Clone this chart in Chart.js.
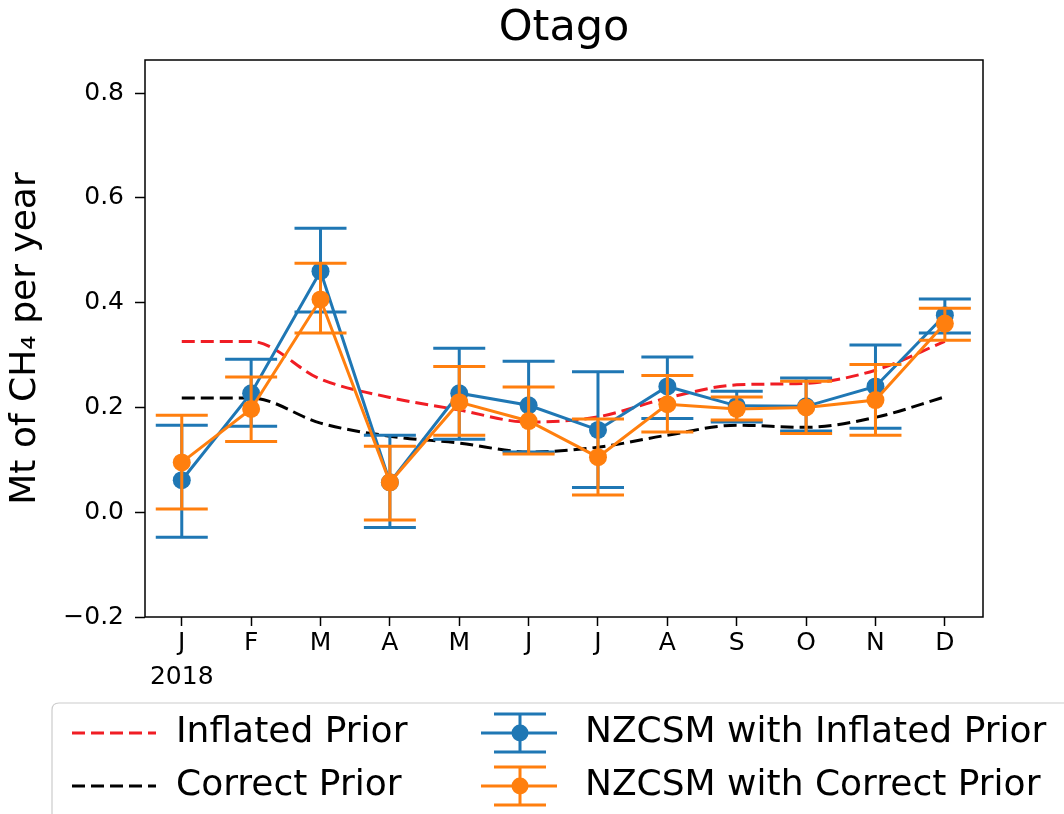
<!DOCTYPE html>
<html>
<head>
<meta charset="utf-8">
<script src="https://cdn.jsdelivr.net/npm/chart.js@4.4.0/dist/chart.umd.min.js"></script>
<style>
  html, body { margin: 0; padding: 0; background: #fff; }
</style>
</head>
<body>
<canvas id="chart" width="1064" height="814"></canvas>
<script>
// monthly values, Mt CH4 per year
var months = ["J", "F", "M", "A", "M", "J", "J", "A", "S", "O", "N", "D"];
var yTicks = [-0.2, 0.0, 0.2, 0.4, 0.6, 0.8];

var inflatedPrior = [0.326, 0.326, 0.254, 0.219, 0.195, 0.172, 0.182, 0.218, 0.243, 0.246, 0.271, 0.326];
var correctPrior  = [0.218, 0.218, 0.170, 0.145, 0.132, 0.115, 0.124, 0.147, 0.166, 0.162, 0.181, 0.220];

var inflatedPost     = [0.061, 0.227, 0.460, 0.057, 0.227, 0.204, 0.157, 0.240, 0.203, 0.202, 0.240, 0.376];
var inflatedPostLow  = [-0.048, 0.164, 0.382, -0.029, 0.139, 0.115, 0.047, 0.179, 0.172, 0.155, 0.160, 0.342];
var inflatedPostHigh = [0.166, 0.292, 0.542, 0.147, 0.313, 0.288, 0.268, 0.296, 0.231, 0.256, 0.319, 0.407];

var correctPost     = [0.095, 0.197, 0.406, 0.057, 0.210, 0.174, 0.105, 0.206, 0.197, 0.200, 0.214, 0.360];
var correctPostLow  = [0.006, 0.135, 0.342, -0.015, 0.147, 0.111, 0.033, 0.153, 0.176, 0.150, 0.147, 0.328];
var correctPostHigh = [0.185, 0.258, 0.475, 0.126, 0.278, 0.239, 0.178, 0.261, 0.220, 0.250, 0.282, 0.389];

var BLUE = "#1f77b4";
var ORANGE = "#ff7f0e";
var RED = "#f01d24";
var FONT = "'DejaVu Sans', sans-serif";

function pts(arr) {
  return arr.map(function (v, i) { return { x: i, y: v }; });
}

// dataset index -> error bar arrays
var errIndex = {
  2: { low: inflatedPostLow, high: inflatedPostHigh },
  3: { low: correctPostLow, high: correctPostHigh }
};

var errorBars = {
  id: "errorBars",
  beforeDatasetDraw: function (chart, args) {
    var eb = errIndex[args.index];
    if (!eb) return;
    var ctx = chart.ctx;
    var xs = chart.scales.x, ys = chart.scales.y;
    ctx.save();
    ctx.strokeStyle = chart.data.datasets[args.index].borderColor;
    ctx.lineWidth = 3;
    eb.low.forEach(function (lo, i) {
      var px = xs.getPixelForValue(i);
      var top = ys.getPixelForValue(eb.high[i]);
      var bot = ys.getPixelForValue(lo);
      ctx.beginPath();
      ctx.moveTo(px, top); ctx.lineTo(px, bot);
      ctx.moveTo(px - 26, top); ctx.lineTo(px + 26, top);
      ctx.moveTo(px - 26, bot); ctx.lineTo(px + 26, bot);
      ctx.stroke();
    });
    ctx.restore();
  }
};

var decorations = {
  id: "decorations",
  afterDraw: function (chart) {
    var ctx = chart.ctx, a = chart.chartArea;
    ctx.save();
    // frame
    ctx.strokeStyle = "#000";
    ctx.lineWidth = 1.5;
    ctx.strokeRect(a.left, a.top, a.right - a.left, a.bottom - a.top);

    // title
    ctx.fillStyle = "#000";
    ctx.font = "43px " + FONT;
    ctx.textAlign = "center";
    ctx.textBaseline = "middle";
    ctx.fillText("Otago", (a.left + a.right) / 2, 29);

    // year under the first month
    ctx.font = "25px " + FONT;
    ctx.fillText("2018", chart.scales.x.getPixelForValue(0), 677);

    // legend
    ctx.strokeStyle = "#cccccc";
    ctx.lineWidth = 1.2;
    ctx.beginPath();
    ctx.moveTo(52, 830);
    ctx.lineTo(52, 710);
    ctx.quadraticCurveTo(52, 703, 59, 703);
    ctx.lineTo(1080, 703);
    ctx.stroke();

    ctx.font = "36px " + FONT;
    ctx.textAlign = "left";
    var rows = [733, 786];

    ctx.lineWidth = 3;
    ctx.setLineDash([13, 6]);
    ctx.strokeStyle = RED;
    ctx.beginPath(); ctx.moveTo(72, rows[0]); ctx.lineTo(156, rows[0]); ctx.stroke();
    ctx.strokeStyle = "#000";
    ctx.beginPath(); ctx.moveTo(72, rows[1]); ctx.lineTo(156, rows[1]); ctx.stroke();
    ctx.setLineDash([]);
    ctx.fillText("Inflated Prior", 176, rows[0]);
    ctx.fillText("Correct Prior", 176, rows[1]);

    [[BLUE, rows[0], "NZCSM with Inflated Prior"], [ORANGE, rows[1], "NZCSM with Correct Prior"]].forEach(function (it) {
      var cx = 520, cy = it[1];
      ctx.strokeStyle = it[0];
      ctx.fillStyle = it[0];
      ctx.lineWidth = 3;
      ctx.beginPath();
      ctx.moveTo(481, cy); ctx.lineTo(557, cy);
      ctx.moveTo(cx, cy - 19); ctx.lineTo(cx, cy + 19);
      ctx.moveTo(cx - 26, cy - 19); ctx.lineTo(cx + 26, cy - 19);
      ctx.moveTo(cx - 26, cy + 19); ctx.lineTo(cx + 26, cy + 19);
      ctx.stroke();
      ctx.beginPath(); ctx.arc(cx, cy, 8.5, 0, Math.PI * 2); ctx.fill();
      ctx.fillStyle = "#000";
      ctx.fillText(it[2], 585, cy);
    });
    ctx.restore();
  }
};

new Chart(document.getElementById("chart"), {
  type: "line",
  data: {
    datasets: [
      {
        label: "Inflated Prior",
        data: pts(inflatedPrior),
        borderColor: RED,
        borderWidth: 3,
        borderDash: [13, 6],
        pointRadius: 0,
        cubicInterpolationMode: "monotone",
        order: 4
      },
      {
        label: "Correct Prior",
        data: pts(correctPrior),
        borderColor: "#000",
        borderWidth: 3,
        borderDash: [13, 6],
        pointRadius: 0,
        cubicInterpolationMode: "monotone",
        order: 3
      },
      {
        label: "NZCSM with Inflated Prior",
        data: pts(inflatedPost),
        borderColor: BLUE,
        backgroundColor: BLUE,
        borderWidth: 3,
        pointRadius: 9,
        pointBorderWidth: 0,
        order: 2
      },
      {
        label: "NZCSM with Correct Prior",
        data: pts(correctPost),
        borderColor: ORANGE,
        backgroundColor: ORANGE,
        borderWidth: 3,
        pointRadius: 9,
        pointBorderWidth: 0,
        order: 1
      }
    ]
  },
  options: {
    responsive: false,
    animation: false,
    devicePixelRatio: 1,
    layout: { padding: { left: 0, top: 60, right: 81, bottom: 0 } },
    plugins: { legend: { display: false }, title: { display: false }, tooltip: { enabled: false } },
    scales: {
      x: {
        type: "linear",
        min: -0.53,
        max: 11.55,
        afterBuildTicks: function (s) {
          s.ticks = months.map(function (m, i) { return { value: i }; });
        },
        afterFit: function (s) { s.height = 197; },
        ticks: {
          color: "#000",
          font: { family: FONT, size: 25 },
          padding: 2,
          maxRotation: 0,
          autoSkip: false,
          callback: function (v) { return months[v]; }
        },
        grid: { display: true, drawOnChartArea: false, drawTicks: true, tickLength: 9, tickColor: "#000", tickWidth: 1.5 },
        border: { display: false }
      },
      y: {
        min: -0.2,
        max: 0.863,
        afterBuildTicks: function (s) {
          s.ticks = yTicks.map(function (v) { return { value: v }; });
        },
        afterFit: function (s) { s.width = 145; },
        ticks: {
          color: "#000",
          font: { family: FONT, size: 25 },
          padding: 11,
          callback: function (v) { return v.toFixed(1).replace("-", "\u2212"); }
        },
        title: {
          display: true,
          text: "Mt of CH\u2084 per year",
          color: "#000",
          font: { family: FONT, size: 36 },
          padding: { top: 4, bottom: 0 }
        },
        grid: { display: true, drawOnChartArea: false, drawTicks: true, tickLength: 10, tickColor: "#000", tickWidth: 1.5 },
        border: { display: false }
      }
    }
  },
  plugins: [errorBars, decorations]
});
</script>
</body>
</html>
